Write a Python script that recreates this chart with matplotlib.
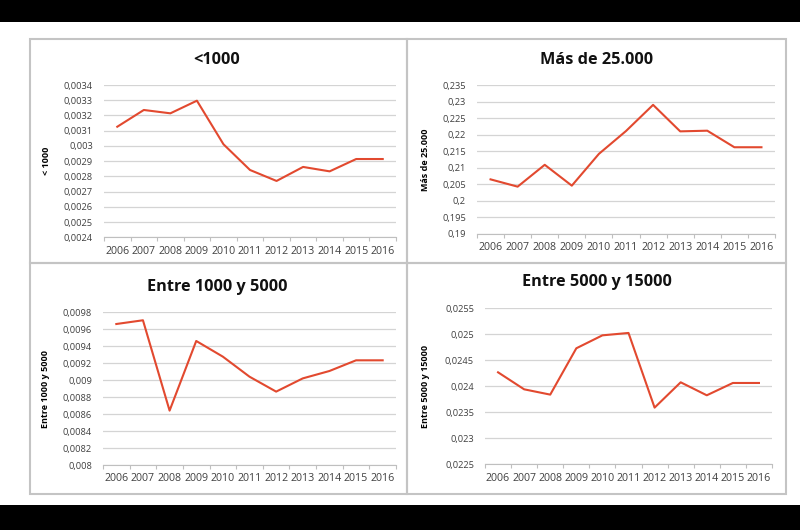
import matplotlib
matplotlib.use("Agg")
import matplotlib.pyplot as plt
from matplotlib.patches import Rectangle
from matplotlib.ticker import FixedLocator, FuncFormatter

years = ["2006", "2007", "2008", "2009", "2010", "2011", "2012", "2013", "2014", "2015", "2016"]

menos_1000 = [0.003126, 0.003236, 0.003214, 0.003297, 0.003011, 0.002842,
              0.002770, 0.002862, 0.002833, 0.002914, 0.002914]
mas_25000 = [0.2065, 0.2043, 0.2109, 0.2046, 0.2142, 0.2211,
             0.2290, 0.2210, 0.2212, 0.2162, 0.2162]
entre_1000_5000 = [0.009662, 0.009706, 0.008641, 0.009462, 0.009277, 0.009041,
                   0.008865, 0.009021, 0.009108, 0.009234, 0.009234]
entre_5000_15000 = [0.024269, 0.023942, 0.023840, 0.024731, 0.024980, 0.025026,
                    0.023590, 0.024077, 0.023827, 0.024064, 0.024064]

titles = ["<1000", "Más de 25.000", "Entre 1000 y 5000", "Entre 5000 y 15000"]
ylabels = ["< 1000", "Más de 25.000", "Entre 1000 y 5000", "Entre 5000 y 15000"]
yranges = [(0.0024, 0.0034, 0.0001), (0.19, 0.235, 0.005),
           (0.008, 0.0098, 0.0002), (0.0225, 0.0255, 0.0005)]
series = [menos_1000, mas_25000, entre_1000_5000, entre_5000_15000]

W, H = 800, 530
fig = plt.figure(figsize=(W / 100, H / 100), dpi=100)
fig.patch.set_facecolor("white")

# black bars
fig.patches.append(Rectangle((0, 1 - 22 / H), 1, 22 / H, transform=fig.transFigure,
                             facecolor="black", edgecolor="none", zorder=0))
fig.patches.append(Rectangle((0, 0), 1, 25 / H, transform=fig.transFigure,
                             facecolor="black", edgecolor="none", zorder=0))

# panel borders (pixel boxes x0, y0, x1, y1)
panels = [(30, 39, 407, 263), (407, 39, 786, 263), (30, 263, 407, 494), (407, 263, 786, 494)]
for (x0, y0, x1, y1) in panels:
    fig.patches.append(Rectangle((x0 / W, 1 - y1 / H), (x1 - x0) / W, (y1 - y0) / H,
                                 transform=fig.transFigure, facecolor="none",
                                 edgecolor="#c4c4c4", lw=1.5, zorder=1))

# axes pixel boxes: left, top, right, bottom
axboxes = [(104, 85, 396, 237.3), (477, 85, 775, 234),
           (103, 312.3, 396, 465), (485, 308.3, 772, 464.3)]
title_pos = [(217, 60), (597, 60), (217, 287), (597, 282)]
ylabel_x = [51, 430, 50, 430]

line_color = "#e2492f"
grid_color = "#d4d4d4"
text_color = "#404040"


def fmt(v, pos):
    s = f"{round(v, 6):g}"
    return s.replace(".", ",")


for i in range(4):
    l, t, r, b = axboxes[i]
    ax = fig.add_axes([l / W, 1 - b / H, (r - l) / W, (b - t) / H])
    ax.set_facecolor("none")
    x = list(range(len(years)))
    ax.plot(x, series[i], color=line_color, lw=1.5, solid_joinstyle="round", zorder=3)
    ymin, ymax, step = yranges[i]
    n = int(round((ymax - ymin) / step))
    ticks = [ymin + k * step for k in range(n + 1)]
    ax.set_ylim(ymin, ymax)
    ax.yaxis.set_major_locator(FixedLocator(ticks))
    ax.yaxis.set_major_formatter(FuncFormatter(fmt))
    ax.set_xlim(-0.5, len(years) - 0.5)
    ax.set_xticks(x)
    ax.set_xticklabels(years)
    ax.set_xticks([k - 0.5 for k in range(len(years) + 1)], minor=True)
    ax.tick_params(axis="x", which="major", length=0, pad=6, labelsize=7.7, labelcolor=text_color)
    ax.tick_params(axis="x", which="minor", length=3, width=0.8, color="#bfbfbf", direction="out")
    ax.tick_params(axis="y", length=0, pad=8, labelsize=6.7, labelcolor=text_color)
    for s in ["top", "right", "left"]:
        ax.spines[s].set_visible(False)
    ax.spines["bottom"].set_color("#bfbfbf")
    ax.spines["bottom"].set_linewidth(0.8)
    ax.yaxis.grid(True, color=grid_color, lw=0.9)
    ax.set_axisbelow(True)
    for lab in ax.get_xticklabels() + ax.get_yticklabels():
        lab.set_fontfamily("Open Sans")
    lx = (ylabel_x[i] - l) / (r - l)
    ax.set_ylabel(ylabels[i], fontsize=6.5, fontweight="bold", family="Open Sans", color="black")
    ax.yaxis.set_label_coords(lx, 0.5)
    tx, ty = title_pos[i]
    fig.text(tx / W, 1 - ty / H, titles[i], ha="center", va="center", fontsize=11.7,
             fontweight="bold", family="Open Sans", color="#111111")

fig.savefig("out.png", dpi=100, facecolor="white")
